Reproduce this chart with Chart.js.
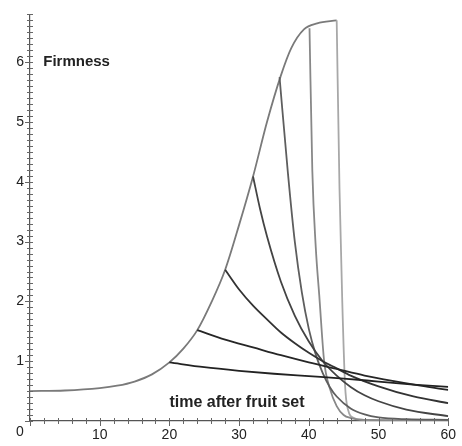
<!DOCTYPE html>
<html>
<head>
<meta charset="utf-8">
<script src="https://cdn.jsdelivr.net/npm/chart.js@4"></script>
<style>
  html, body { margin: 0; padding: 0; background: #fff; }
  #wrap { width: 462px; height: 446px; }
</style>
</head>
<body>
<div id="wrap"><canvas id="chart" width="462" height="446"></canvas></div>
<script>
// Main growth curve (firmness vs time after fruit set)
const growthT = [0, 5, 10, 12.5, 15, 17.5, 20, 22, 24, 26, 28, 30, 32, 34, 36, 37.5, 39.3, 41.2, 44]
const growthF = [0.5, 0.51, 0.55, 0.59, 0.66, 0.78, 0.98, 1.21, 1.52, 1.98, 2.53, 3.28, 4.09, 5.0, 5.78, 6.24, 6.55, 6.65, 6.7]

// Decay branches, one per harvest time
const b20T = [20, 25, 30, 35, 40, 45, 50, 55, 60]
const b20F = [0.98, 0.9, 0.84, 0.79, 0.75, 0.71, 0.66, 0.61, 0.57]
const b24T = [24, 28, 32, 36, 40, 44, 48, 52, 56, 60]
const b24F = [1.52, 1.36, 1.23, 1.1, 0.98, 0.87, 0.76, 0.67, 0.59, 0.52]
const b28T = [28, 30, 32, 34, 36, 38, 40, 42, 44, 46, 50, 55, 60]
const b28F = [2.53, 2.2, 1.93, 1.7, 1.48, 1.3, 1.14, 1.0, 0.88, 0.76, 0.58, 0.41, 0.3]
const b32T = [32, 33, 34, 36, 38, 40, 42, 44, 46, 48, 50, 54, 60]
const b32F = [4.09, 3.55, 3.09, 2.33, 1.76, 1.33, 1.0, 0.76, 0.57, 0.43, 0.33, 0.19, 0.08]
const b36T = [35.8, 37, 38, 39, 40, 41, 42, 43, 44, 46, 48, 50, 54, 60]
const b36F = [5.75, 4.15, 2.99, 2.15, 1.54, 1.11, 0.8, 0.57, 0.41, 0.21, 0.11, 0.06, 0.03, 0.02]
const b40T = [40.1, 40.5, 41, 41.5, 42.2, 43, 44, 45, 46, 48, 60]
const b40F = [6.57, 4.2, 2.9, 2.1, 1.0, 0.55, 0.25, 0.1, 0.05, 0.02, 0.01]
const b44T = [44, 44.4, 44.8, 45.2, 45.6, 46.5, 48, 60]
const b44F = [6.7, 3.9, 2.0, 0.6, 0.2, 0.05, 0.02, 0.01]

const xTicks = [10, 20, 30, 40, 50, 60]
const yTicks = [1, 2, 3, 4, 5, 6]

const yLabel = 'Firmness'
const xLabel = 'time after fruit set'

const font = '"Liberation Sans", Arial, sans-serif'
const ink = '#222'

function pts(t, f) {
  return t.map((v, i) => ({ x: v, y: f[i] }))
}

function series(t, f, color) {
  return {
    data: pts(t, f),
    borderColor: color,
    borderWidth: 1.8,
    pointRadius: 0,
    fill: false,
    cubicInterpolationMode: 'monotone',
  }
}

// Minor/major tick marks crossing the axis lines, plus the text labels
const axisDecor = {
  id: 'axisDecor',
  afterDraw(chart) {
    const ctx = chart.ctx
    const xs = chart.scales.x
    const ys = chart.scales.y
    const left = xs.left
    const bottom = ys.bottom
    ctx.save()
    ctx.strokeStyle = '#666'
    ctx.lineWidth = 1
    ctx.beginPath()
    for (let i = 0; i <= 68; i++) {
      const py = Math.round(ys.getPixelForValue(i / 10)) + 0.5
      ctx.moveTo(left - (i % 10 === 0 ? 5 : 3), py)
      ctx.lineTo(left + 3, py)
    }
    for (let i = 0; i <= 30; i++) {
      const px = Math.round(xs.getPixelForValue(i * 2)) + 0.5
      ctx.moveTo(px, bottom - 3)
      ctx.lineTo(px, bottom + (i % 5 === 0 ? 5 : 3))
    }
    ctx.stroke()

    ctx.fillStyle = ink
    ctx.font = '14px ' + font
    ctx.textAlign = 'center'
    ctx.textBaseline = 'middle'
    ctx.fillText('0', left - 10, bottom + 11)

    ctx.textAlign = 'left'
    ctx.font = 'bold 15px ' + font
    ctx.fillText(yLabel, xs.getPixelForValue(1.9), ys.getPixelForValue(6.0))
    ctx.font = 'bold 16px ' + font
    ctx.fillText(xLabel, xs.getPixelForValue(20), ys.getPixelForValue(0.31))
    ctx.restore()
  }
}

new Chart(document.getElementById('chart'), {
  type: 'line',
  data: {
    datasets: [
      series(b20T, b20F, '#222'),
      series(b24T, b24F, '#262626'),
      series(b28T, b28F, '#333'),
      series(b32T, b32F, '#444'),
      series(b36T, b36F, '#5e5e5e'),
      series(b40T, b40F, '#888'),
      series(b44T, b44F, '#a8a8a8'),
      series(growthT, growthF, '#7a7a7a'),
    ]
  },
  options: {
    responsive: false,
    animation: false,
    layout: { padding: { top: 10, right: 10, left: 0, bottom: 0 } },
    plugins: {
      legend: { display: false },
      tooltip: { enabled: false },
    },
    scales: {
      x: {
        type: 'linear',
        min: 0,
        max: 60,
        grid: { display: false, drawTicks: false },
        border: { display: true, color: '#555', width: 1.2 },
        afterBuildTicks: (scale) => { scale.ticks = xTicks.map(v => ({ value: v })) },
        afterFit: (scale) => { scale.height = 25 },
        ticks: {
          color: ink,
          padding: 6,
          maxRotation: 0,
          font: { family: font, size: 14 },
        }
      },
      y: {
        type: 'linear',
        min: 0,
        max: 6.8,
        grid: { display: false, drawTicks: false },
        border: { display: true, color: '#555', width: 1.2 },
        afterBuildTicks: (scale) => { scale.ticks = yTicks.map(v => ({ value: v })) },
        afterFit: (scale) => { scale.width = 30 },
        ticks: {
          color: ink,
          padding: 6,
          font: { family: font, size: 14 },
        }
      }
    }
  },
  plugins: [axisDecor]
})
</script>
</body>
</html>
